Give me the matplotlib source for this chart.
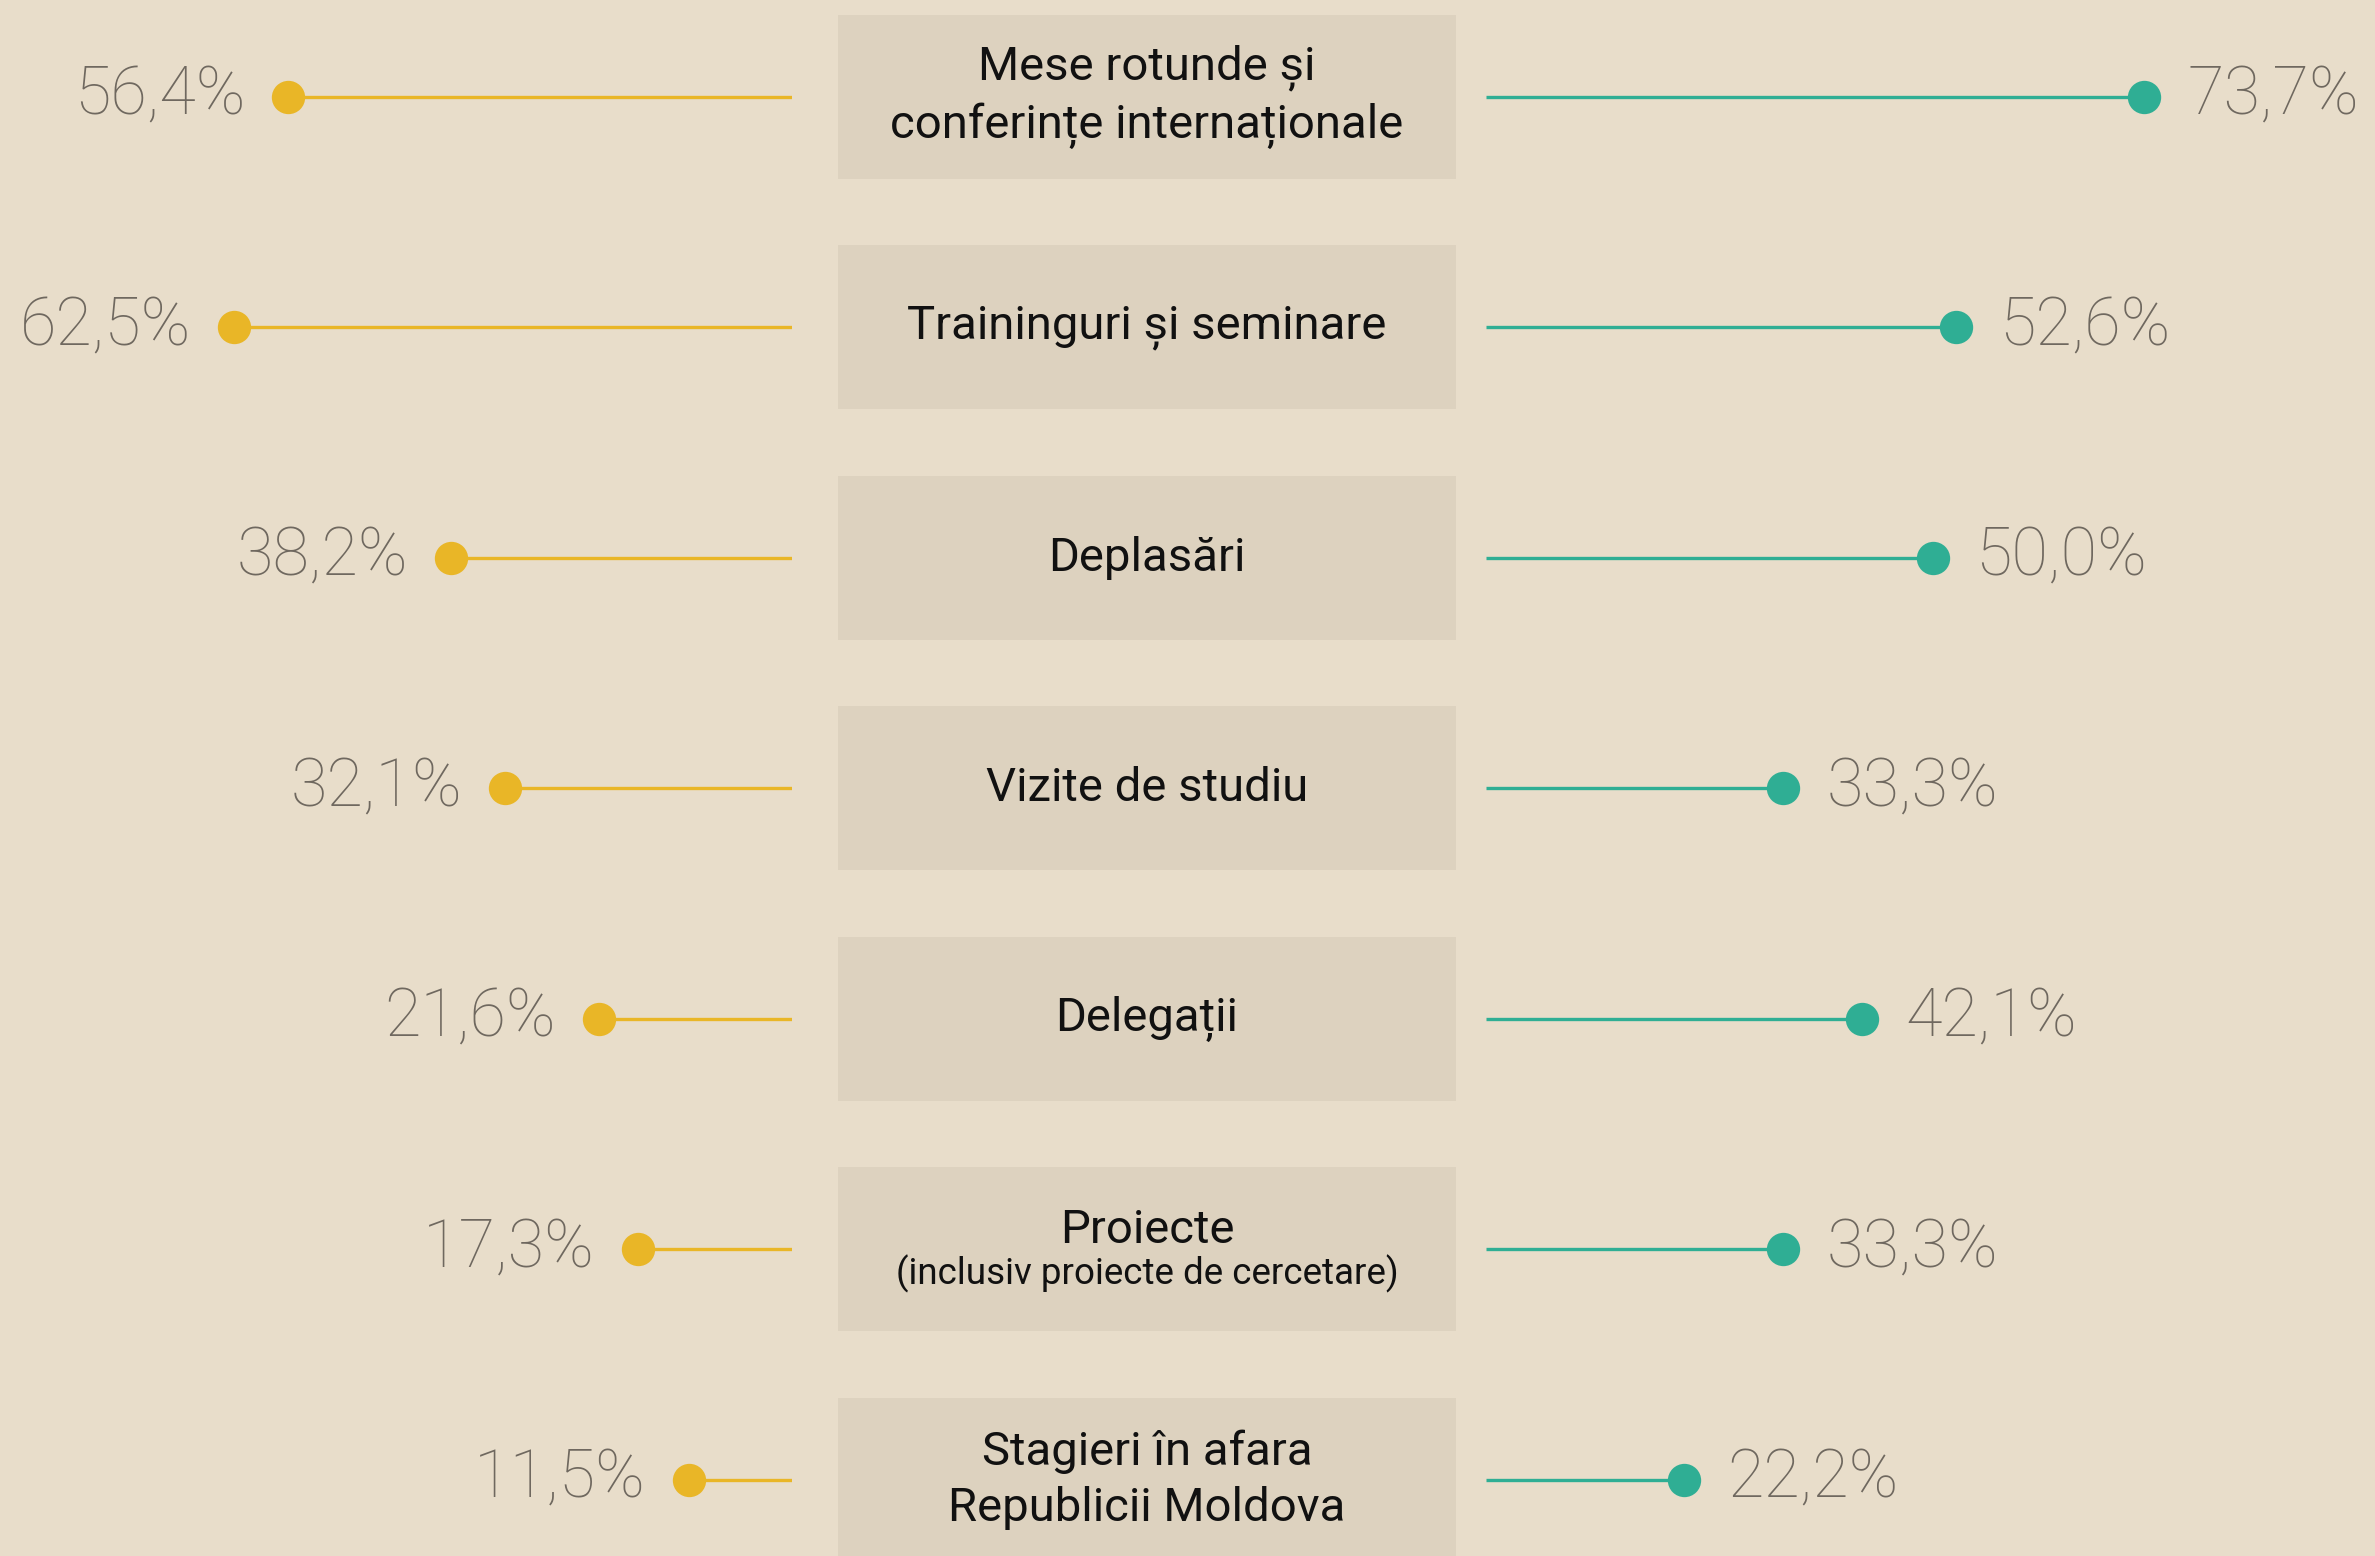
import matplotlib
matplotlib.use("Agg")
import matplotlib.pyplot as plt

categories = [
    "Mese rotunde și\nconferințe internaționale",
    "Traininguri și seminare",
    "Deplasări",
    "Vizite de studiu",
    "Delegații",
    "Proiecte",
    "Stagieri în afara\nRepublicii Moldova",
]
subtitles = ["", "", "", "", "", "(inclusiv proiecte de cercetare)", ""]
left_values = [56.4, 62.5, 38.2, 32.1, 21.6, 17.3, 11.5]
right_values = [73.7, 52.6, 50.0, 33.3, 42.1, 33.3, 22.2]

BG = "#E8DDCA"
BOX = "#DDD2BF"
YELLOW = "#E9B627"
TEAL = "#2FAE94"
GRAY = "#6F685F"

W, H = 2375, 1556
DPI = 100
PX_PER_PCT = 8.93

plt.rcParams['font.family'] = ['Roboto', 'DejaVu Sans']

fig = plt.figure(figsize=(W / DPI, H / DPI), dpi=DPI, facecolor=BG)

row0 = 96.9
step = 230.5
ytop = -row0 / step
ybot = 6 + (H - (row0 + 6 * step)) / step

left_end = 792
right_start = 1486
box_l, box_r = 838, 1456

axL = fig.add_axes([0, 0, left_end / W, 1])
axR = fig.add_axes([right_start / W, 0, (W - right_start) / W, 1])
axM = fig.add_axes([box_l / W, 0, (box_r - box_l) / W, 1])

for ax in (axL, axR, axM):
    ax.set_facecolor("none")
    ax.set_ylim(ybot, ytop)
    ax.axis("off")

axL.set_xlim(left_end / PX_PER_PCT, 0)
axR.set_xlim(0, (W - right_start) / PX_PER_PCT)
axM.set_xlim(0, 1)

ys = list(range(len(categories)))

# boxes
axM.barh(ys, [1] * len(ys), left=0, height=0.712, color=BOX, zorder=0)
for y, cat, sub in zip(ys, categories, subtitles):
    if sub:
        axM.text(0.5, y - 0.085, cat, ha="center", va="center", fontsize=34,
                 fontweight="normal", color="#111111")
        axM.text(0.5, y + 0.105, sub, ha="center", va="center", fontsize=26.5,
                 fontweight="normal", color="#111111")
    else:
        axM.text(0.5, y, cat, ha="center", va="center", fontsize=34,
                 fontweight="normal", color="#111111", linespacing=1.33)

def fmt(v):
    return f"{v:.1f}".replace(".", ",") + "%"

for y, v in zip(ys, left_values):
    axL.plot([0, v], [y, y], color=YELLOW, lw=2.4, solid_capstyle="butt", zorder=1)
    axL.scatter([v], [y], s=24 ** 2, color=YELLOW, zorder=2, linewidths=0)
    axL.annotate(fmt(v), (v, y), xytext=(-31, 0), textcoords="offset points",
                 ha="right", va="center", fontsize=48, fontweight="light",
                 color=GRAY, annotation_clip=False)

for y, v in zip(ys, right_values):
    axR.plot([0, v], [y, y], color=TEAL, lw=2.4, solid_capstyle="butt", zorder=1)
    axR.scatter([v], [y], s=24 ** 2, color=TEAL, zorder=2, linewidths=0)
    axR.annotate(fmt(v), (v, y), xytext=(31, 0), textcoords="offset points",
                 ha="left", va="center", fontsize=48, fontweight="light",
                 color=GRAY, annotation_clip=False)

fig.savefig("out.png", dpi=DPI, facecolor=BG)
